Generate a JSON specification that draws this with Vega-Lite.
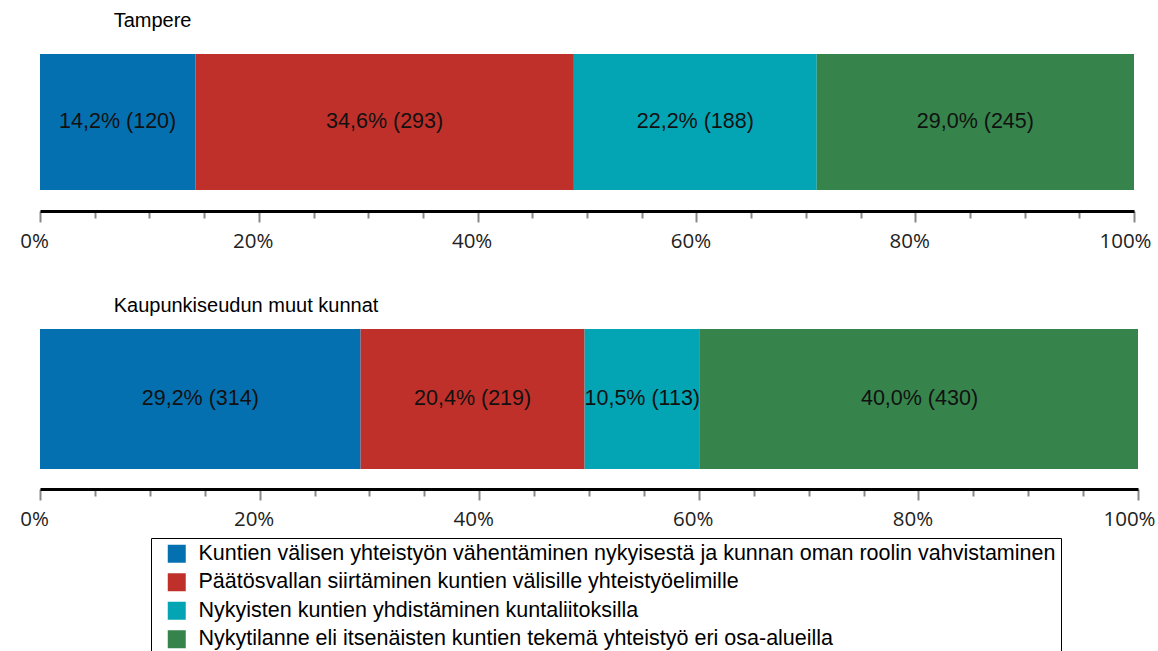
{
  "$schema": "https://vega.github.io/schema/vega-lite/v6.json",
  "background": "white",
  "padding": {"left": 19, "top": 11, "right": 0, "bottom": 0},
  "config": {"view": {"stroke": null}, "font": "Liberation Sans", "concat": {"spacing": 44}},
  "data": {"values": [
    {"panel": "Tampere", "ord": 1, "category": "Kuntien välisen yhteistyön vähentäminen nykyisestä ja kunnan oman roolin vahvistaminen", "percent": 14.2, "count": 120, "label": "14,2% (120)"},
    {"panel": "Tampere", "ord": 2, "category": "Päätösvallan siirtäminen kuntien välisille yhteistyöelimille", "percent": 34.6, "count": 293, "label": "34,6% (293)"},
    {"panel": "Tampere", "ord": 3, "category": "Nykyisten kuntien yhdistäminen kuntaliitoksilla", "percent": 22.2, "count": 188, "label": "22,2% (188)"},
    {"panel": "Tampere", "ord": 4, "category": "Nykytilanne eli itsenäisten kuntien tekemä yhteistyö eri osa-alueilla", "percent": 29.0, "count": 245, "label": "29,0% (245)"},
    {"panel": "Kaupunkiseudun muut kunnat", "ord": 1, "category": "Kuntien välisen yhteistyön vähentäminen nykyisestä ja kunnan oman roolin vahvistaminen", "percent": 29.2, "count": 314, "label": "29,2% (314)"},
    {"panel": "Kaupunkiseudun muut kunnat", "ord": 2, "category": "Päätösvallan siirtäminen kuntien välisille yhteistyöelimille", "percent": 20.4, "count": 219, "label": "20,4% (219)"},
    {"panel": "Kaupunkiseudun muut kunnat", "ord": 3, "category": "Nykyisten kuntien yhdistäminen kuntaliitoksilla", "percent": 10.5, "count": 113, "label": "10,5% (113)"},
    {"panel": "Kaupunkiseudun muut kunnat", "ord": 4, "category": "Nykytilanne eli itsenäisten kuntien tekemä yhteistyö eri osa-alueilla", "percent": 40.0, "count": 430, "label": "40,0% (430)"}
  ]},
  "transform": [
    {"stack": "percent", "groupby": ["panel"], "sort": [{"field": "ord"}], "as": ["x0", "x1"]},
    {"calculate": "(datum.x0 + datum.x1) / 2", "as": "xm"}
  ],
  "vconcat": [
    {
      "title": {"text": "Tampere", "anchor": "start", "dx": 94, "fontSize": 20, "fontWeight": "normal", "font": "Liberation Sans", "color": "black", "offset": 23},
      "width": 1094,
      "height": 136,
      "transform": [{"filter": "datum.panel === 'Tampere'"}],
      "layer": [
        {
          "mark": {"type": "bar", "clip": true},
          "encoding": {
            "y": {"field": "panel", "type": "nominal", "axis": null, "scale": {"paddingInner": 0, "paddingOuter": 0}},
            "x": {"field": "x0", "type": "quantitative", "scale": {"domain": [0, 100]},
              "axis": {"values": [0,5,10,15,20,25,30,35,40,45,50,55,60,65,70,75,80,85,90,95,100], "labelExpr": "datum.value % 20 === 0 ? datum.value + '%' : ''", "labelOverlap": false, "labelFlush": false, "offset": 21, "domainColor": "black", "domainWidth": 3, "tickColor": "#888888", "tickWidth": 2, "tickSize": {"condition": {"test": "datum.value % 20 === 0", "value": 11}, "value": 7}, "labelFont": "Open Sans", "labelFontSize": 20.5, "labelColor": "#222222", "labelPadding": 9, "labelOffset": {"condition": {"test": "datum.value === 100", "value": -9}, "value": -6}, "grid": false, "title": null}},
            "x2": {"field": "x1"},
            "color": {"field": "category", "type": "nominal",
              "scale": {"domain": ["Kuntien välisen yhteistyön vähentäminen nykyisestä ja kunnan oman roolin vahvistaminen", "Päätösvallan siirtäminen kuntien välisille yhteistyöelimille", "Nykyisten kuntien yhdistäminen kuntaliitoksilla", "Nykytilanne eli itsenäisten kuntien tekemä yhteistyö eri osa-alueilla"], "range": ["#0570B0", "#C0302A", "#03A5B5", "#36844B"]},
              "legend": {"orient": "none", "legendX": 111, "legendY": 484, "title": null, "direction": "vertical", "symbolType": "square", "symbolSize": 324, "symbolStrokeWidth": 0, "symbolOpacity": 1, "symbolOffset": 10, "labelOffset": 11, "labelFont": "Liberation Sans", "labelFontSize": 21.5, "labelColor": "black", "rowPadding": 5.5, "strokeColor": "black", "fillColor": "white", "padding": 5, "labelLimit": 0}}
          }
        },
        {
          "mark": {"type": "text", "fontSize": 21.5, "font": "Liberation Sans", "color": "#111111"},
          "encoding": {
            "y": {"field": "panel", "type": "nominal", "axis": null},
            "x": {"field": "xm", "type": "quantitative"},
            "text": {"field": "label", "type": "nominal"}
          }
        }
      ]
    },
    {
      "title": {"text": "Kaupunkiseudun muut kunnat", "anchor": "start", "dx": 94, "fontSize": 20, "fontWeight": "normal", "font": "Liberation Sans", "color": "black", "offset": 13},
      "width": 1098,
      "height": 140,
      "transform": [{"filter": "datum.panel === 'Kaupunkiseudun muut kunnat'"}],
      "layer": [
        {
          "mark": {"type": "bar", "clip": true},
          "encoding": {
            "y": {"field": "panel", "type": "nominal", "axis": null, "scale": {"paddingInner": 0, "paddingOuter": 0}},
            "x": {"field": "x0", "type": "quantitative", "scale": {"domain": [0, 100]},
              "axis": {"values": [0,5,10,15,20,25,30,35,40,45,50,55,60,65,70,75,80,85,90,95,100], "labelExpr": "datum.value % 20 === 0 ? datum.value + '%' : ''", "labelOverlap": false, "labelFlush": false, "offset": 20, "domainColor": "black", "domainWidth": 3, "tickColor": "#888888", "tickWidth": 2, "tickSize": {"condition": {"test": "datum.value % 20 === 0", "value": 11}, "value": 7}, "labelFont": "Open Sans", "labelFontSize": 20.5, "labelColor": "#222222", "labelPadding": 9, "labelOffset": {"condition": {"test": "datum.value === 100", "value": -9}, "value": -6}, "grid": false, "title": null}},
            "x2": {"field": "x1"},
            "color": {"field": "category", "type": "nominal",
              "scale": {"domain": ["Kuntien välisen yhteistyön vähentäminen nykyisestä ja kunnan oman roolin vahvistaminen", "Päätösvallan siirtäminen kuntien välisille yhteistyöelimille", "Nykyisten kuntien yhdistäminen kuntaliitoksilla", "Nykytilanne eli itsenäisten kuntien tekemä yhteistyö eri osa-alueilla"], "range": ["#0570B0", "#C0302A", "#03A5B5", "#36844B"]},
              "legend": {"orient": "none", "legendX": 111, "legendY": 484, "title": null, "direction": "vertical", "symbolType": "square", "symbolSize": 324, "symbolStrokeWidth": 0, "symbolOpacity": 1, "symbolOffset": 10, "labelOffset": 11, "labelFont": "Liberation Sans", "labelFontSize": 21.5, "labelColor": "black", "rowPadding": 5.5, "strokeColor": "black", "fillColor": "white", "padding": 5, "labelLimit": 0}}
          }
        },
        {
          "mark": {"type": "text", "fontSize": 21.5, "font": "Liberation Sans", "color": "#111111"},
          "encoding": {
            "y": {"field": "panel", "type": "nominal", "axis": null},
            "x": {"field": "xm", "type": "quantitative"},
            "text": {"field": "label", "type": "nominal"}
          }
        }
      ]
    }
  ]
}
